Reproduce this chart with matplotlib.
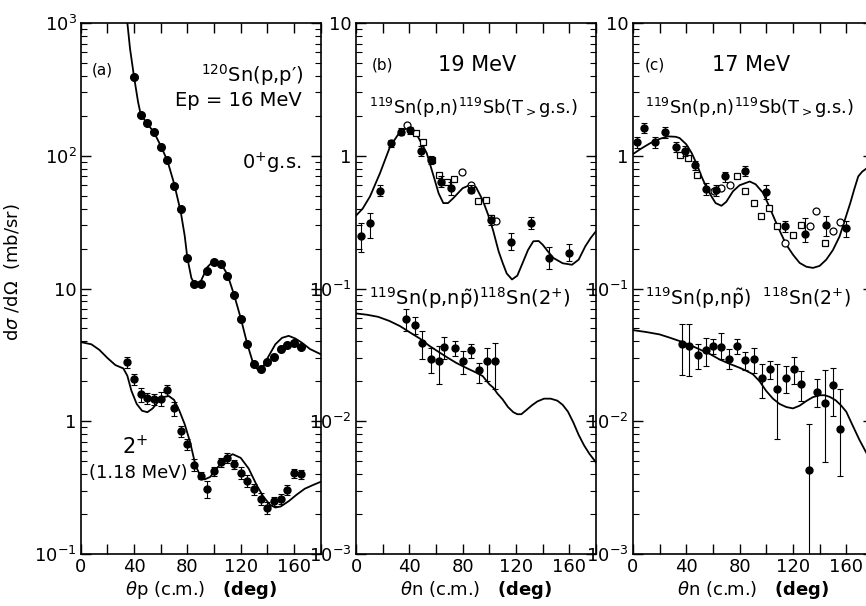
import matplotlib.pyplot as plt
import numpy as np
from matplotlib.ticker import LogLocator, NullFormatter, FuncFormatter

# ---- panel (a): 120Sn(p,p') at 16 MeV ----
a0_theta = [40, 45, 50, 55, 60, 65, 70, 75, 80, 85, 90, 95, 100, 105, 110, 115,
            120, 125, 130, 135, 140, 145, 150, 155, 160, 165]
a0_xs = [393, 203, 176, 152, 117, 93, 59, 40, 17, 10.9, 10.9, 13.6, 15.9, 15.3, 12.5, 8.9,
         5.85, 3.8, 2.68, 2.49, 2.79, 3.06, 3.48, 3.73, 3.86, 3.64]

a0_curve_theta = [35, 37, 40, 43, 45, 50, 55, 60, 65, 70, 75, 78, 80, 83, 86, 90, 95, 100,
                  105, 110, 115, 120, 125, 130, 133, 137, 141, 146, 151, 156, 161, 166, 172, 180]
a0_curve = [1000, 640, 393, 255, 205, 174, 150, 119, 92, 62, 38, 25, 17, 12, 10.6, 11.3, 14.5, 16.3,
            15.5, 12.8, 9.0, 6.0, 3.8, 2.6, 2.45, 2.6, 3.1, 3.8, 4.25, 4.4, 4.2, 3.9, 3.5, 3.2]

a2_theta = [35, 40, 45, 50, 55, 60, 65, 70, 75, 80, 85, 90, 95, 100, 105, 110, 115,
            120, 125, 130, 135, 140, 145, 150, 155, 160, 165]
a2_xs = [2.79, 2.07, 1.60, 1.49, 1.47, 1.48, 1.72, 1.25, 0.84, 0.67, 0.47, 0.39, 0.31, 0.42,
         0.49, 0.53, 0.475, 0.41, 0.356, 0.308, 0.26, 0.224, 0.249, 0.26, 0.305, 0.406, 0.40]
a2_relerr = [0.1, 0.1, 0.12, 0.1, 0.1, 0.12, 0.1, 0.12, 0.1, 0.1, 0.1, 0.06, 0.15, 0.08,
             0.08, 0.08, 0.08, 0.1, 0.1, 0.1, 0.1, 0.1, 0.08, 0.08, 0.08, 0.08, 0.08]

a2_curve_theta = [0, 8, 14, 20, 26, 32, 35, 38, 42, 46, 50, 54, 58, 62, 66, 70, 74, 78, 82, 86,
                  90, 93, 97, 102, 108, 114, 120, 126, 132, 137, 142, 146, 150, 156, 162, 168, 174, 180]
a2_curve = [3.95, 3.8, 3.45, 3.0, 2.65, 2.5, 2.2, 1.7, 1.35, 1.2, 1.17, 1.25, 1.4, 1.52, 1.55, 1.45,
            1.2, 0.95, 0.7, 0.47, 0.38, 0.365, 0.38, 0.44, 0.52, 0.565, 0.53, 0.44, 0.33, 0.27,
            0.235, 0.224, 0.228, 0.25, 0.28, 0.31, 0.33, 0.35]

# ---- panel (b): 19 MeV ----
b1_theta = [4, 10.5, 18, 26, 33.5, 40.5, 48.5, 56, 63.5, 71, 86, 101.5, 116, 131, 145, 160]
b1_xs = [0.25, 0.312, 0.546, 1.24, 1.52, 1.56, 1.09, 0.93, 0.64, 0.57, 0.555, 0.33, 0.225, 0.31, 0.17, 0.185]
b1_lo = [0.19, 0.24, 0.50, 1.17, 1.43, 1.47, 1.00, 0.87, 0.58, 0.51, 0.52, 0.30, 0.195, 0.28, 0.14, 0.16]
b1_hi = [0.31, 0.37, 0.60, 1.31, 1.62, 1.66, 1.19, 1.00, 0.70, 0.64, 0.60, 0.36, 0.26, 0.345, 0.205, 0.215]
b1_sq_theta = [45, 50.5, 56.7, 62.3, 68.5, 73.6, 91.8, 97.8, 101.6]
b1_sq = [1.48, 1.27, 0.93, 0.72, 0.64, 0.67, 0.454, 0.461, 0.34]
b1_oc_theta = [38.5, 79.8, 86.1, 104.9]
b1_oc = [1.70, 0.75, 0.605, 0.32]

b1_curve_theta = [0, 5, 10.5, 18, 25.5, 33, 38, 45, 53, 59, 62, 65.5, 69, 73, 80, 86, 90, 95, 100,
                  103, 107, 110, 113, 117, 121, 125, 129, 133, 137, 140, 144, 148, 155, 162, 167,
                  172, 176, 180]
b1_curve = [0.354, 0.40, 0.494, 0.74, 1.17, 1.52, 1.61, 1.48, 1.05, 0.66, 0.52, 0.44, 0.44, 0.48,
            0.57, 0.605, 0.58, 0.464, 0.34, 0.27, 0.19, 0.156, 0.13, 0.117, 0.125, 0.156, 0.195,
            0.227, 0.228, 0.214, 0.19, 0.17, 0.155, 0.151, 0.165, 0.208, 0.24, 0.27]

b2_theta = [37.5, 44, 49.5, 56, 62, 66, 74, 80.5, 86.5, 92.5, 98, 104]
b2_xs = [0.0592, 0.053, 0.039, 0.0292, 0.0285, 0.0362, 0.0354, 0.0284, 0.0342, 0.0242, 0.0284, 0.0284]
b2_lo = [0.0478, 0.0451, 0.0296, 0.023, 0.019, 0.0292, 0.031, 0.0226, 0.0301, 0.0195, 0.0201, 0.0174]
b2_hi = [0.0695, 0.0612, 0.0478, 0.0358, 0.0368, 0.043, 0.0402, 0.0338, 0.038, 0.0276, 0.0358, 0.039]

b2_curve_theta = [0, 8, 16.6, 25, 33, 40, 48, 55, 63, 69, 75, 80, 85, 90, 95, 100, 103, 106, 110,
                  114, 118, 121, 124, 128, 132, 136, 141, 146, 151, 155, 159, 163, 167, 171, 175, 180]
b2_curve = [0.0649, 0.0635, 0.0612, 0.057, 0.0521, 0.047, 0.0419, 0.037, 0.0328, 0.030, 0.0276,
            0.026, 0.0246, 0.0233, 0.0219, 0.019, 0.0179, 0.0162, 0.0146, 0.0128, 0.0117, 0.0113,
            0.0113, 0.0122, 0.0132, 0.0141, 0.0148, 0.0148, 0.0143, 0.0133, 0.0118, 0.0098,
            0.0079, 0.0066, 0.0057, 0.0049]

# ---- panel (c): 17 MeV ----
c1_theta = [2.7, 8.2, 16.5, 24, 32, 39, 46.4, 54.7, 62.2, 69.4, 84.4, 100, 114.3, 129.3, 145, 160]
c1_xs = [1.26, 1.62, 1.26, 1.50, 1.17, 1.08, 0.845, 0.565, 0.548, 0.698, 0.771, 0.53, 0.294, 0.258, 0.303, 0.284]
c1_lo = [1.15, 1.48, 1.15, 1.37, 1.07, 0.99, 0.78, 0.51, 0.50, 0.64, 0.71, 0.47, 0.265, 0.225, 0.25, 0.245]
c1_hi = [1.38, 1.77, 1.38, 1.64, 1.28, 1.18, 0.92, 0.62, 0.60, 0.76, 0.84, 0.60, 0.325, 0.34, 0.35, 0.32]
c1_sq_theta = [35.2, 41.4, 47.7, 77.7, 84, 90.7, 96.4, 102.1, 108.3, 120.1, 126.3, 143.8]
c1_sq = [1.02, 0.96, 0.72, 0.70, 0.54, 0.44, 0.354, 0.404, 0.298, 0.255, 0.303, 0.221]
c1_oc_theta = [60.7, 66.4, 72.7, 113.8, 132.6, 137.6, 150.1, 155.6]
c1_oc = [0.54, 0.57, 0.605, 0.221, 0.294, 0.381, 0.27, 0.315]

c1_curve_theta = [0, 6, 12.7, 20, 26.4, 32, 35, 40, 44, 48, 51.4, 55, 58.9, 62, 66.4, 70, 75, 80,
                  87.6, 92, 97.6, 102, 106.4, 111, 115, 120, 125, 130, 135, 140, 145, 150, 155,
                  159, 163, 166, 169, 172, 175, 180]
c1_curve = [1.03, 1.13, 1.24, 1.34, 1.40, 1.39, 1.36, 1.22, 1.05, 0.86, 0.70, 0.58, 0.494, 0.44,
            0.42, 0.45, 0.54, 0.60, 0.64, 0.61, 0.525, 0.42, 0.33, 0.26, 0.214, 0.18, 0.156,
            0.146, 0.143, 0.148, 0.165, 0.195, 0.247, 0.33, 0.44, 0.56, 0.70, 0.76, 0.80, 0.85]

c2_theta = [36.5, 42.2, 48.5, 54.5, 60.2, 66.4, 72.1, 78.1, 84.4, 90.6, 96.9, 103.1, 108.4,
            114.6, 120.6, 126.3, 131.9, 137.9, 144.4, 150.4, 155.6]
c2_xs = [0.0379, 0.037, 0.0313, 0.0344, 0.037, 0.0364, 0.0296, 0.0366, 0.0289, 0.0296, 0.0213,
         0.0246, 0.0174, 0.021, 0.0246, 0.0192, 0.0043, 0.0166, 0.0138, 0.0187, 0.0088]
c2_lo = [0.0222, 0.0219, 0.0246, 0.0261, 0.0319, 0.0292, 0.0246, 0.0323, 0.0243, 0.0232, 0.0151,
         0.0207, 0.0074, 0.0164, 0.019, 0.0142, 0.0008, 0.0127, 0.0049, 0.011, 0.0039]
c2_hi = [0.0543, 0.0536, 0.0379, 0.0426, 0.0419, 0.0465, 0.0348, 0.0419, 0.0334, 0.0358, 0.0268,
         0.0284, 0.0272, 0.0261, 0.0306, 0.0239, 0.0095, 0.0207, 0.0243, 0.0253, 0.0176]

c2_curve_theta = [0, 10, 20, 28, 35, 42, 50, 58, 65, 72, 80, 85, 90, 95, 100, 105, 110, 115, 120,
                  125, 130, 135, 140, 144, 148, 152, 156, 160, 165, 170, 175, 180]
c2_curve = [0.0486, 0.047, 0.0451, 0.0425, 0.0402, 0.0378, 0.0348, 0.032, 0.0292, 0.0272, 0.0253,
            0.024, 0.0226, 0.020, 0.0169, 0.0148, 0.0135, 0.0128, 0.0125, 0.0131, 0.0142, 0.0152,
            0.0157, 0.0157, 0.0152, 0.0144, 0.0132, 0.0118, 0.0092, 0.0072, 0.0058, 0.0047]

xtick_vals = [0, 20, 40, 60, 80, 100, 120, 140, 160, 180]
xtick_text = ['0', '', '40', '', '80', '', '120', '', '160', '']


def decade(v, pos):
    e = int(round(np.log10(v)))
    if e == 0:
        return '1'
    if e == 1:
        return '10'
    return r'$10^{%d}$' % e


def setup(ax, ylo, yhi):
    ax.set_yscale('log')
    ax.set_ylim(ylo, yhi)
    ax.set_xlim(0, 180)
    ax.set_xticks(xtick_vals)
    ax.set_xticklabels(xtick_text)
    ax.yaxis.set_major_locator(LogLocator(base=10, numticks=10))
    ax.yaxis.set_minor_locator(LogLocator(base=10, subs=range(2, 10), numticks=10))
    ax.yaxis.set_minor_formatter(NullFormatter())
    ax.yaxis.set_major_formatter(FuncFormatter(decade))
    ax.tick_params(which='both', direction='in', top=True, right=True, labelsize=13, pad=3)
    ax.tick_params(which='major', length=7, width=1)
    ax.tick_params(which='minor', length=4, width=0.8)
    for s in ax.spines.values():
        s.set_linewidth(1.2)


def errs(y, lo, hi):
    y = np.array(y)
    return [y - np.array(lo), np.array(hi) - y]


fig = plt.figure(figsize=(8.66, 6.06), dpi=100)
axa = fig.add_axes([0.0932, 0.0858, 0.2771, 0.8762])
axb = fig.add_axes([0.4111, 0.0858, 0.2771, 0.8762])
axc = fig.add_axes([0.7309, 0.0858, 0.2771, 0.8762])

ebkw = dict(fmt='o', color='black', ms=5, capsize=2, elinewidth=0.8, capthick=0.8)
sqkw = dict(ls='none', marker='s', ms=4.5, mfc='white', mec='black', mew=0.9)
ockw = dict(ls='none', marker='o', ms=5, mfc='white', mec='black', mew=0.9)

# (a)
setup(axa, 0.1, 1000)
axa.plot(a0_curve_theta, a0_curve, 'k-', lw=1.3)
axa.plot(a2_curve_theta, a2_curve, 'k-', lw=1.3)
axa.plot(a0_theta, a0_xs, 'ko', ms=5.5)
a2_lo = [v * (1 - r) for v, r in zip(a2_xs, a2_relerr)]
a2_hi = [v * (1 + r) for v, r in zip(a2_xs, a2_relerr)]
axa.errorbar(a2_theta, a2_xs, yerr=errs(a2_xs, a2_lo, a2_hi), **ebkw)
axa.text(0.047, 0.911, '(a)', transform=axa.transAxes, fontsize=11, va='center')
axa.text(0.93, 0.902, r'$^{120}$Sn(p,p′)', transform=axa.transAxes, fontsize=14, ha='right', va='center')
axa.text(0.92, 0.855, 'Ep = 16 MeV', transform=axa.transAxes, fontsize=14, ha='right', va='center')
axa.text(0.92, 0.736, r'0$^{+}$g.s.', transform=axa.transAxes, fontsize=14, ha='right', va='center')
axa.text(0.226, 0.203, r'2$^{+}$', transform=axa.transAxes, fontsize=15, ha='center', va='center')
axa.text(0.035, 0.153, '(1.18 MeV)', transform=axa.transAxes, fontsize=13, ha='left', va='center')
axa.set_xlabel(r'$\theta$p (c.m.)   $\mathbf{(deg)}$', fontsize=13, labelpad=2)

# (b)
setup(axb, 0.001, 10)
axb.plot(b1_curve_theta, b1_curve, 'k-', lw=1.3)
axb.plot(b2_curve_theta, b2_curve, 'k-', lw=1.3)
axb.plot(b1_sq_theta, b1_sq, **sqkw)
axb.plot(b1_oc_theta, b1_oc, **ockw)
axb.errorbar(b1_theta, b1_xs, yerr=errs(b1_xs, b1_lo, b1_hi), **ebkw)
axb.errorbar(b2_theta, b2_xs, yerr=errs(b2_xs, b2_lo, b2_hi), **ebkw)
axb.text(0.067, 0.921, '(b)', transform=axb.transAxes, fontsize=11, va='center')
axb.text(0.34, 0.921, '19 MeV', transform=axb.transAxes, fontsize=15, va='center')
axb.text(0.055, 0.84, r'$^{119}$Sn(p,n)$^{119}$Sb(T$_{>}$g.s.)', transform=axb.transAxes,
         fontsize=12.8, va='center')
axb.text(0.055, 0.482, r'$^{119}$Sn(p,n$\tilde{\mathrm{p}}$)$^{118}$Sn(2$^{+}$)', transform=axb.transAxes,
         fontsize=14, va='center')
axb.set_xlabel(r'$\theta$n (c.m.)   $\mathbf{(deg)}$', fontsize=13, labelpad=2)

# (c)
setup(axc, 0.001, 10)
axc.plot(c1_curve_theta, c1_curve, 'k-', lw=1.3)
axc.plot(c2_curve_theta, c2_curve, 'k-', lw=1.3)
axc.plot(c1_sq_theta, c1_sq, **sqkw)
axc.plot(c1_oc_theta, c1_oc, **ockw)
axc.errorbar(c1_theta, c1_xs, yerr=errs(c1_xs, c1_lo, c1_hi), **ebkw)
axc.errorbar(c2_theta, c2_xs, yerr=errs(c2_xs, c2_lo, c2_hi), **ebkw)
axc.text(0.05, 0.921, '(c)', transform=axc.transAxes, fontsize=11, va='center')
axc.text(0.33, 0.921, '17 MeV', transform=axc.transAxes, fontsize=15, va='center')
axc.text(0.05, 0.84, r'$^{119}$Sn(p,n)$^{119}$Sb(T$_{>}$g.s.)', transform=axc.transAxes,
         fontsize=12.8, va='center')
axc.text(0.05, 0.482, r'$^{119}$Sn(p,n$\tilde{\mathrm{p}}$)  $^{118}$Sn(2$^{+}$)', transform=axc.transAxes,
         fontsize=13.5, va='center')
axc.set_xlabel(r'$\theta$n (c.m.)   $\mathbf{(deg)}$', fontsize=13, labelpad=2)

fig.text(0.014, 0.55, r'd$\sigma$ /d$\Omega$  (mb/sr)', rotation=90, fontsize=13, ha='center', va='center')

fig.savefig('out.png', dpi=100)
